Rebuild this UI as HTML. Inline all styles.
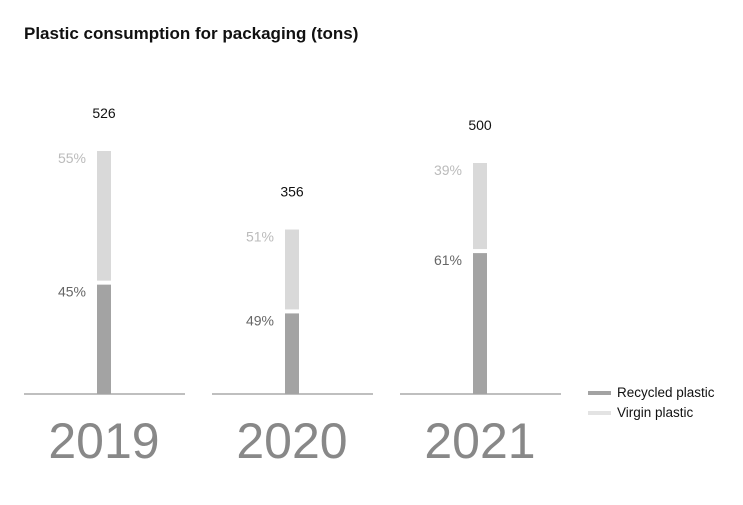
<!DOCTYPE html>
<html><head><meta charset="utf-8"><style>
body{margin:0;background:#fff;width:743px;height:500px;overflow:hidden;font-family:"Liberation Sans",sans-serif}
</style></head><body>
<svg width="743" height="500" xmlns="http://www.w3.org/2000/svg">
<text x="24" y="39" font-size="17" font-weight="bold" fill="#111">Plastic consumption for packaging (tons)</text>
<g id="plot"></g>
<g>
<rect x="588" y="391" width="23" height="4" fill="#a3a3a3"/>
<text x="617" y="397" font-size="13.5" fill="#111">Recycled plastic</text>
<rect x="588" y="411" width="23" height="4" fill="#e3e3e3"/>
<text x="617" y="417" font-size="13.5" fill="#111">Virgin plastic</text>
</g>
</svg>
<script>
const years = ['2019','2020','2021'];
const totals = [526, 356, 500];
const recycledPct = [45, 49, 61];
const virginPct = [55, 51, 39];

const NS='http://www.w3.org/2000/svg';
const g=document.getElementById('plot');
const base=394, scale=243/526, barW=14;
const cx=i=>104+i*188;
const y=v=>base-v*scale;
function mk(t,a){const e=document.createElementNS(NS,t);for(const k in a)e.setAttribute(k,a[k]);g.appendChild(e);return e;}
years.forEach((yr,i)=>{
  const c=cx(i), tot=totals[i];
  const ax=mk('line',{x1:c-80,x2:c+81,y1:base,y2:base,stroke:'#aaa','stroke-width':1.5});
  
  
  const rv=tot*recycledPct[i]/100;
  const r=mk('rect',{x:c-barW/2,y:y(rv),width:barW,height:base-y(rv),fill:'#a3a3a3'});
  
  
  const vTop=y(tot), vBot=y(rv)-4;
  const v=mk('rect',{x:c-barW/2,y:vTop,width:barW,height:Math.max(0,vBot-vTop),fill:'#d9d9d9'});
  
  
  const t1=mk('text',{x:c-18,y:y(rv)+12,'text-anchor':'end','font-size':14,fill:'#666'});
  t1.textContent=recycledPct[i]+'%';
  
  
  const t2=mk('text',{x:c-18,y:vTop+12,'text-anchor':'end','font-size':14,fill:'#bbb'});
  t2.textContent=virginPct[i]+'%';
  
  
  const tt=mk('text',{x:c,y:vTop-33,'text-anchor':'middle','font-size':14,fill:'#111'});
  tt.textContent=tot;
  
  
  const yl=mk('text',{x:c,y:458,'text-anchor':'middle','font-size':50,fill:'#888'});
  yl.textContent=yr;
  
  
});
</script>
</body></html>
